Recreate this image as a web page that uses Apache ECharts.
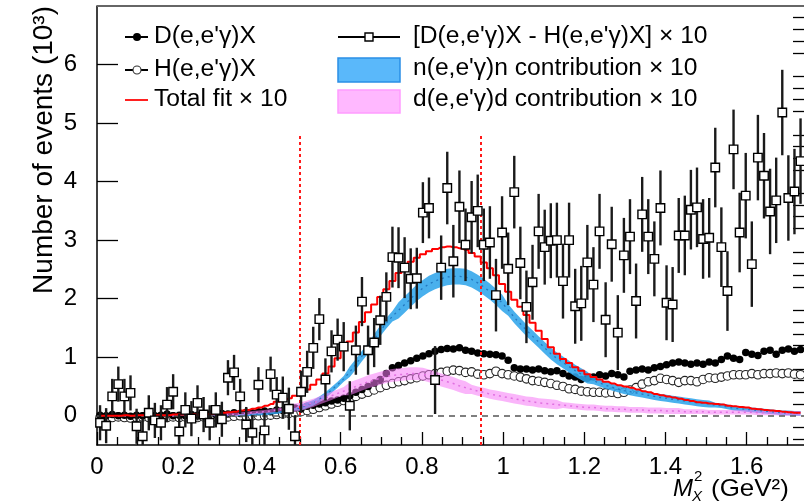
<!DOCTYPE html>
<html><head><meta charset="utf-8">
<script src="https://cdn.jsdelivr.net/npm/echarts@6/dist/echarts.min.js"></script>
<style>html,body{margin:0;padding:0;background:#fff}#c{width:804px;height:504px}</style>
</head><body><div id="c"></div>
<script>
// ---- data (bin width 0.015 in M_X^2, first bin centred at 0.0075) ----
const binStart = 0.0075, binWidth = 0.015;
// [D - H] x 10  (10^3 events)
const diff = [-0.12,-0.17,0.33,0.54,0.33,0.39,-0.18,-0.35,0.05,-0.08,
 -0.12,0.19,0.41,-0.27,0.10,-0.05,0.22,0.02,-0.12,0.10,
 -0.06,0.65,0.74,0.33,-0.15,-0.29,0.53,-0.25,0.71,0.36,
 0.31,0.12,-0.35,0.41,0.75,1.16,1.65,0.62,1.10,1.30,
 1.18,0.17,1.12,1.95,1.12,1.25,1.63,2.03,2.71,2.70,
 2.53,2.34,2.35,3.47,3.55,0.61,2.53,3.89,2.64,3.57,
 2.92,3.39,3.50,2.92,2.96,2.06,3.13,2.51,3.82,2.61,
 1.86,2.28,3.15,2.88,2.99,3.00,2.30,3.00,1.87,1.92,
 2.62,2.24,3.15,1.64,2.93,1.42,2.74,3.06,1.96,3.44,
 3.06,2.68,3.55,1.93,1.90,3.08,3.08,3.52,3.56,3.02,
 3.04,4.24,2.88,2.13,4.55,3.13,3.76,2.59,4.41,4.10,
 3.49,3.68,5.18,3.72,3.83,4.35];
const diffErr = [0.3,0.3,0.3,0.3,0.3,0.3,0.3,0.3,0.3,0.3,
 0.3,0.3,0.3,0.3,0.3,0.3,0.3,0.3,0.3,0.3,
 0.3,0.3,0.3,0.3,0.3,0.3,0.3,0.3,0.3,0.3,
 0.36,0.36,0.36,0.36,0.36,0.36,0.36,0.36,0.36,0.36,
 0.42,0.42,0.42,0.42,0.42,0.42,0.42,0.42,0.52,0.52,
 0.52,0.52,0.52,0.52,0.52,0.58,0.55,0.62,0.62,0.62,
 0.62,0.62,0.62,0.62,0.62,0.62,0.62,0.62,0.62,0.62,
 0.62,0.64,0.64,0.64,0.64,0.64,0.64,0.64,0.64,0.64,
 0.64,0.64,0.64,0.64,0.64,0.64,0.64,0.64,0.64,0.64,
 0.64,0.64,0.64,0.64,0.64,0.64,0.68,0.68,0.68,0.68,
 0.68,0.68,0.68,0.68,0.68,0.68,0.73,0.73,0.73,0.73,
 0.73,0.73,0.73,0.73,0.73,0.73];
// D(e,e'γ)X
const dData = [0.01,0.00,0.02,0.00,0.01,-0.01,0.01,0.00,0.02,0.00,
 0.01,0.03,0.00,0.01,0.00,0.02,0.01,0.02,0.03,0.02,
 0.04,0.03,0.05,0.04,0.06,0.05,0.07,0.08,0.07,0.10,
 0.09,0.12,0.13,0.12,0.16,0.18,0.20,0.22,0.25,0.27,
 0.30,0.34,0.40,0.45,0.50,0.56,0.62,0.72,0.82,0.86,
 0.90,0.94,0.98,1.02,1.06,1.10,1.13,1.15,1.14,1.16,
 1.12,1.10,1.07,1.06,1.05,1.04,1.02,0.95,0.82,0.80,
 0.80,0.78,0.80,0.77,0.75,0.77,0.72,0.68,0.66,0.62,
 0.64,0.66,0.70,0.68,0.72,0.70,0.66,0.76,0.78,0.80,
 0.78,0.82,0.84,0.87,0.90,0.92,0.90,0.88,0.90,0.88,
 0.92,0.90,0.96,1.02,0.98,0.96,1.08,1.05,1.03,1.10,
 1.12,1.05,1.12,1.14,1.10,1.13];
// H(e,e'γ)X
const hData = [-0.03,-0.04,-0.03,-0.02,-0.03,-0.04,-0.03,-0.02,-0.03,-0.03,
 -0.02,-0.03,-0.02,-0.03,-0.02,-0.02,-0.03,-0.02,-0.01,-0.02,
 -0.01,-0.02,-0.01,0.00,-0.01,0.00,0.00,0.00,0.01,0.02,
 0.03,0.04,0.05,0.07,0.09,0.11,0.14,0.17,0.20,0.23,
 0.26,0.30,0.33,0.37,0.40,0.44,0.48,0.52,0.55,0.58,
 0.60,0.63,0.65,0.68,0.70,0.72,0.74,0.76,0.78,0.77,
 0.74,0.75,0.71,0.70,0.72,0.76,0.72,0.70,0.68,0.66,
 0.63,0.60,0.59,0.57,0.55,0.52,0.50,0.46,0.45,0.42,
 0.41,0.40,0.40,0.39,0.40,0.38,0.40,0.44,0.48,0.54,
 0.58,0.60,0.64,0.62,0.60,0.57,0.60,0.60,0.58,0.62,
 0.65,0.64,0.66,0.68,0.70,0.70,0.70,0.72,0.70,0.72,
 0.72,0.73,0.72,0.73,0.71,0.70];
// Total fit x 10
const totalFit = [0,0,0,0,0.01,0,0.01,0.01,0.01,0.01,
 0.01,0.01,0.02,0.02,0.02,0.02,0.02,0.03,0.03,0.04,
 0.05,0.06,0.07,0.09,0.10,0.12,0.14,0.17,0.20,0.24,
 0.27,0.30,0.34,0.38,0.45,0.53,0.62,0.72,0.84,0.98,
 1.12,1.27,1.42,1.60,1.77,1.90,2.03,2.16,2.30,2.44,
 2.54,2.63,2.70,2.76,2.81,2.85,2.88,2.89,2.88,2.86,
 2.83,2.78,2.72,2.62,2.52,2.40,2.25,2.12,1.98,1.86,
 1.72,1.59,1.45,1.31,1.17,1.06,0.97,0.90,0.83,0.77,
 0.71,0.66,0.62,0.58,0.55,0.52,0.50,0.48,0.45,0.42,
 0.40,0.37,0.35,0.33,0.31,0.29,0.27,0.25,0.23,0.22,
 0.21,0.20,0.19,0.17,0.16,0.15,0.14,0.12,0.11,0.10,
 0.09,0.08,0.07,0.06,0.05,0.05];
// n(e,e'γ)n contribution x 10 : centre and half-width of band
const nCentre = [0,0,0,0,0,0,0,0,0,0,
 0,0,0,0,0,0,0,0,0,0,
 0,0,0,0.01,0.01,0.02,0.03,0.03,0.04,0.05,
 0.07,0.09,0.11,0.14,0.18,0.22,0.28,0.35,0.44,0.53,
 0.63,0.75,0.88,1.02,1.15,1.30,1.45,1.58,1.70,1.80,
 1.90,2.00,2.10,2.18,2.25,2.30,2.34,2.37,2.38,2.38,
 2.37,2.33,2.27,2.20,2.12,2.03,1.93,1.81,1.68,1.57,
 1.46,1.36,1.26,1.16,1.06,0.98,0.91,0.84,0.77,0.71,
 0.65,0.60,0.56,0.52,0.49,0.46,0.43,0.41,0.39,0.37,
 0.35,0.33,0.31,0.30,0.28,0.27,0.25,0.24,0.22,0.21,
 0.20,0.18,0.17,0.15,0.13,0.12,0.11,0.10,0.09,0.08,
 0.07,0.06,0.05,0.05,0.04,0.04];
const nHalf = [0.005,0.005,0.005,0.005,0.005,0.005,0.005,0.005,0.005,0.005,
 0.005,0.005,0.005,0.005,0.005,0.005,0.005,0.005,0.005,0.005,
 0.005,0.005,0.005,0.02,0.02,0.02,0.02,0.02,0.02,0.02,
 0.02,0.02,0.02,0.05,0.05,0.05,0.05,0.05,0.05,0.05,
 0.05,0.09,0.09,0.09,0.09,0.09,0.09,0.09,0.09,0.14,
 0.14,0.14,0.14,0.14,0.14,0.14,0.14,0.14,0.14,0.14,
 0.14,0.14,0.14,0.14,0.14,0.14,0.14,0.10,0.10,0.10,
 0.10,0.10,0.10,0.10,0.10,0.10,0.10,0.10,0.10,0.10,
 0.10,0.06,0.06,0.06,0.06,0.06,0.06,0.06,0.06,0.06,
 0.06,0.06,0.06,0.06,0.06,0.06,0.06,0.06,0.06,0.06,
 0.06,0.04,0.04,0.04,0.04,0.04,0.04,0.04,0.04,0.04,
 0.04,0.04,0.04,0.04,0.04,0.04];
// d(e,e'γ)d contribution x 10 : centre and half-width of band
const dCentre = [0,0,0,0,0,0,0,0,0,0,
 0,0,0,0,0,0,0,0,0,0.01,
 0.01,0.02,0.02,0.03,0.04,0.05,0.06,0.07,0.08,0.10,
 0.11,0.13,0.14,0.16,0.19,0.22,0.26,0.30,0.34,0.38,
 0.42,0.46,0.50,0.54,0.58,0.61,0.64,0.67,0.69,0.70,
 0.71,0.72,0.72,0.71,0.68,0.65,0.61,0.58,0.55,0.51,
 0.48,0.45,0.42,0.40,0.37,0.35,0.33,0.31,0.29,0.27,
 0.25,0.24,0.22,0.21,0.20,0.19,0.18,0.17,0.16,0.15,
 0.14,0.14,0.13,0.12,0.12,0.11,0.11,0.10,0.10,0.10,
 0.09,0.09,0.09,0.08,0.08,0.08,0.07,0.07,0.07,0.07,
 0.06,0.06,0.06,0.06,0.06,0.06,0.06,0.06,0.05,0.05,
 0.05,0.05,0.04,0.04,0.04,0.04];
const dHalf = [0.005,0.005,0.005,0.005,0.005,0.005,0.005,0.005,0.005,0.005,
 0.005,0.005,0.005,0.005,0.005,0.005,0.005,0.005,0.005,0.005,
 0.005,0.03,0.03,0.03,0.03,0.03,0.03,0.03,0.03,0.03,
 0.03,0.07,0.07,0.07,0.07,0.07,0.07,0.07,0.07,0.07,
 0.07,0.11,0.11,0.11,0.11,0.11,0.11,0.11,0.11,0.11,
 0.11,0.11,0.11,0.11,0.11,0.11,0.11,0.11,0.11,0.11,
 0.11,0.08,0.08,0.08,0.08,0.08,0.08,0.08,0.08,0.08,
 0.08,0.08,0.08,0.08,0.08,0.08,0.05,0.05,0.05,0.05,
 0.05,0.05,0.05,0.05,0.05,0.05,0.05,0.05,0.05,0.05,
 0.05,0.05,0.05,0.05,0.05,0.05,0.04,0.04,0.04,0.04,
 0.04,0.04,0.04,0.04,0.04,0.04,0.04,0.04,0.04,0.04,
 0.04,0.04,0.04,0.04,0.04,0.04];
// reference lines (cut window) and axis ticks
const cutLines = [0.5, 0.945];
const cutTop = 4.8;
const xMajorTicks = [0, 0.2, 0.4, 0.6, 0.8, 1, 1.2, 1.4, 1.6];
const xMinorTicks = [0.05,0.1,0.15,0.25,0.3,0.35,0.45,0.5,0.55,0.65,0.7,0.75,0.85,0.9,0.95,
  1.05,1.1,1.15,1.25,1.3,1.35,1.45,1.5,1.55,1.65,1.7];
const yMajorTicks = [0, 1, 2, 3, 4, 5, 6];
const yMinorTicks = [-0.4,-0.2,0.2,0.4,0.6,0.8,1.2,1.4,1.6,1.8,2.2,2.4,2.6,2.8,3.2,3.4,3.6,3.8,
  4.2,4.4,4.6,4.8,5.2,5.4,5.6,5.8,6.2,6.4,6.6,6.8];
const xMin = 0, xMax = 1.741, yMin = -0.5, yMax = 7;

// ---- build ----
const xs = diff.map((_, i) => +(binStart + binWidth * i).toFixed(4));
const pairs = arr => xs.map((x, i) => [x, arr[i]]);

function bandSeries(centre, half, fill, z) {
  return {
    type: 'custom', z: z, silent: true, clip: true,
    data: [[xs[0], centre[0]]],
    renderItem: function (params, api) {
      const top = xs.map((x, i) => api.coord([x, centre[i] + half[i]]));
      const bot = xs.map((x, i) => api.coord([x, centre[i] - half[i]])).reverse();
      return {type: 'polygon', shape: {points: top.concat(bot), smooth: 0}, style: {fill: fill}};
    }
  };
}

const FONT = 'Liberation Sans';
const chart = echarts.init(document.getElementById('c'), null, {renderer: 'canvas'});

const axisCommon = {type: 'value', min: xMin, max: xMax, splitLine: {show: false}};
const legendFont = '23px "Liberation Sans"';
const LSX = 1.07;
const option = {
  animation: false,
  backgroundColor: '#fff',
  grid: {left: 97, right: 0, top: 6, bottom: 59, containLabel: false},
  xAxis: [
    Object.assign({}, axisCommon, {
      position: 'bottom',
      axisLine: {show: true, onZero: false, lineStyle: {color: '#000', width: 1.5}},
      axisTick: {show: true, inside: true, length: 13, customValues: xMajorTicks, lineStyle: {color: '#000', width: 1.3}},
      axisLabel: {show: true, customValues: xMajorTicks, fontFamily: FONT, fontSize: 24, color: '#000', margin: 10}
    }),
    Object.assign({}, axisCommon, {
      position: 'bottom',
      axisLine: {show: false, onZero: false},
      axisTick: {show: true, inside: true, length: 8, customValues: xMinorTicks, lineStyle: {color: '#000', width: 1.3}},
      axisLabel: {show: false}
    })
  ],
  yAxis: [
    {type: 'value', min: yMin, max: yMax, splitLine: {show: false},
     axisLine: {show: true, onZero: false, lineStyle: {color: '#000', width: 1.5}},
     axisTick: {show: true, inside: true, length: 21, customValues: yMajorTicks, lineStyle: {color: '#000', width: 1.3}},
     axisLabel: {show: true, customValues: yMajorTicks, fontFamily: FONT, fontSize: 24, color: '#000', margin: 20}},
    {type: 'value', min: yMin, max: yMax, splitLine: {show: false},
     axisLine: {show: false, onZero: false},
     axisTick: {show: true, inside: true, length: 11, customValues: yMinorTicks, lineStyle: {color: '#000', width: 1.3}},
     axisLabel: {show: false}}
  ],
  series: [
    { // zero line + cut lines
      type: 'line', data: [], z: 1, silent: true,
      markLine: {
        silent: true, symbol: 'none', animation: false, label: {show: false},
        data: [
          {yAxis: 0, lineStyle: {color: '#555', width: 1.5, type: [6, 5]}},
          [{coord: [cutLines[0], yMin], lineStyle: {color: '#ff1a1a', width: 2, type: [3, 3]}}, {coord: [cutLines[0], cutTop]}],
          [{coord: [cutLines[1], yMin], lineStyle: {color: '#ff1a1a', width: 2, type: [3, 3]}}, {coord: [cutLines[1], cutTop]}]
        ]
      }
    },
    { name: 'H', type: 'scatter', data: pairs(hData), z: 2, symbol: 'circle', symbolSize: 8.5,
      itemStyle: {color: '#fff', borderColor: '#222', borderWidth: 1.1, opacity: 1} },
    { name: 'D', type: 'scatter', data: pairs(dData), z: 3, symbol: 'circle', symbolSize: 7.5,
      itemStyle: {color: '#000', opacity: 1} },
    bandSeries(nCentre, nHalf, 'rgba(48,165,235,0.88)', 4),
    { type: 'line', data: pairs(nCentre), z: 4, symbol: 'none', silent: true,
      lineStyle: {color: '#2478c0', width: 1.3, type: [2, 4]} },
    bandSeries(dCentre, dHalf, 'rgba(245,120,245,0.55)', 4),
    { type: 'line', data: pairs(dCentre), z: 4, symbol: 'none', silent: true,
      lineStyle: {color: '#e070e0', width: 1.5, type: [2, 4]} },
    { name: 'fit', type: 'line', step: 'middle', data: pairs(totalFit), z: 5, symbol: 'none',
      lineStyle: {color: '#ff0000', width: 2} },
    { type: 'custom', z: 6, clip: true,
      data: xs.map((x, i) => [x, diff[i], diffErr[i]]),
      encode: {x: 0, y: 1},
      renderItem: function (params, api) {
        const x = api.value(0), y = api.value(1), e = api.value(2);
        const a = api.coord([x, y - e]), b = api.coord([x, y + e]);
        return {type: 'line', shape: {x1: a[0], y1: a[1], x2: b[0], y2: b[1]},
                style: {stroke: '#1a1a1a', lineWidth: 2.4}};
      } },
    { name: 'diff', type: 'scatter', data: pairs(diff), z: 7, symbol: 'rect', symbolSize: 8.5,
      itemStyle: {color: '#fff', borderColor: '#000', borderWidth: 1.4, opacity: 1} }
  ],
  graphic: [
    // frame top
    {type: 'line', shape: {x1: 97, y1: 6, x2: 804, y2: 6}, style: {stroke: '#666', lineWidth: 2}, z: 100},
    // y title
    {type: 'text', x: 44, y: 6, rotation: Math.PI / 2, z: 100,
     style: {text: 'Number of events (10³)', font: '28px "Liberation Sans"', fill: '#000', align: 'right', verticalAlign: 'middle'}},
    // x title
    {type: 'text', x: 673, y: 489, z: 100, style: {text: 'M', font: 'italic 24px "Liberation Sans"', fill: '#000', align: 'left', verticalAlign: 'middle'}},
    {type: 'text', x: 694, y: 477, z: 100, style: {text: '2', font: '15px "Liberation Sans"', fill: '#000', align: 'left', verticalAlign: 'middle'}},
    {type: 'text', x: 692, y: 497, z: 100, style: {text: 'X', font: 'italic 15px "Liberation Sans"', fill: '#000', align: 'left', verticalAlign: 'middle'}},
    {type: 'text', x: 711, y: 489, z: 100, scaleX: 1.08, style: {text: '(GeV²)', font: '24px "Liberation Sans"', fill: '#000', align: 'left', verticalAlign: 'middle'}},
    // legend left column
    {type: 'line', shape: {x1: 125, y1: 37, x2: 148, y2: 37}, style: {stroke: '#000', lineWidth: 2}, z: 100},
    {type: 'circle', shape: {cx: 137, cy: 37, r: 4}, style: {fill: '#000'}, z: 101},
    {type: 'text', x: 154, y: 37, z: 100, scaleX: LSX, style: {text: "D(e,e'γ)X", font: legendFont, fill: '#000', verticalAlign: 'middle'}},
    {type: 'line', shape: {x1: 125, y1: 70, x2: 148, y2: 70}, style: {stroke: '#000', lineWidth: 2}, z: 100},
    {type: 'circle', shape: {cx: 137, cy: 70, r: 4}, style: {fill: '#fff', stroke: '#333', lineWidth: 1.1}, z: 101},
    {type: 'text', x: 154, y: 70, z: 100, scaleX: LSX, style: {text: "H(e,e'γ)X", font: legendFont, fill: '#000', verticalAlign: 'middle'}},
    {type: 'line', shape: {x1: 125, y1: 100, x2: 148, y2: 100}, style: {stroke: '#ff2020', lineWidth: 2}, z: 100},
    {type: 'text', x: 154, y: 100, z: 100, scaleX: LSX, style: {text: 'Total fit × 10', font: legendFont, fill: '#000', verticalAlign: 'middle'}},
    // legend right column
    {type: 'line', shape: {x1: 338, y1: 37, x2: 400, y2: 37}, style: {stroke: '#000', lineWidth: 2}, z: 100},
    {type: 'rect', shape: {x: 365, y: 33, width: 8, height: 8}, style: {fill: '#fff', stroke: '#000', lineWidth: 1.4}, z: 101},
    {type: 'text', x: 413, y: 37, z: 100, scaleX: LSX, style: {text: "[D(e,e'γ)X - H(e,e'γ)X] × 10", font: legendFont, fill: '#000', verticalAlign: 'middle'}},
    {type: 'rect', shape: {x: 338, y: 58, width: 62, height: 24}, style: {fill: '#5ab8fa', stroke: '#2a8fe6', lineWidth: 1.5}, z: 100},
    {type: 'text', x: 413, y: 69, z: 100, scaleX: LSX, style: {text: "n(e,e'γ)n contribution × 10", font: legendFont, fill: '#000', verticalAlign: 'middle'}},
    {type: 'rect', shape: {x: 338, y: 90, width: 62, height: 23}, style: {fill: '#ffb8ff', stroke: '#ff9cff', lineWidth: 1.5}, z: 100},
    {type: 'text', x: 413, y: 100, z: 100, scaleX: LSX, style: {text: "d(e,e'γ)d contribution × 10", font: legendFont, fill: '#000', verticalAlign: 'middle'}}
  ]
};
chart.setOption(option);
</script>
</body></html>
